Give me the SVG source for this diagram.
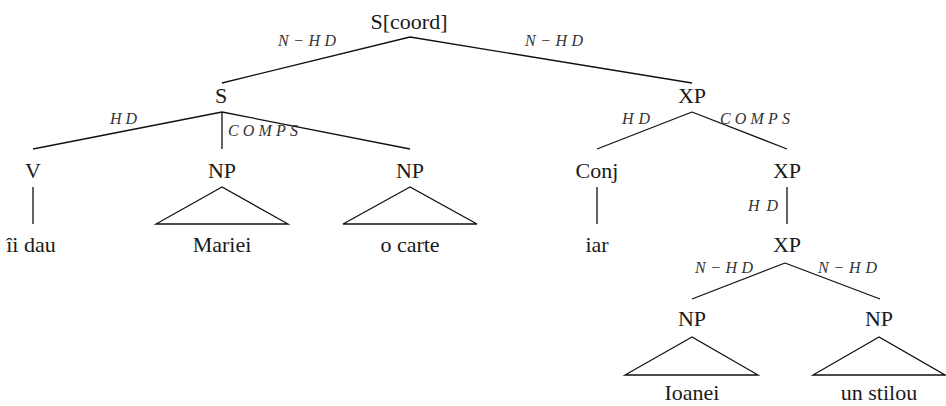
<svg xmlns="http://www.w3.org/2000/svg" width="946" height="406" viewBox="0 0 946 406">
<style>
.n{font-family:"Liberation Serif","DejaVu Serif",serif;font-size:22px;fill:#1a1a1a;text-anchor:middle}
.l{font-family:"Liberation Serif","DejaVu Serif",serif;font-size:16px;font-style:italic;fill:#333}
.e{stroke:#111;stroke-width:1.3;fill:none}
</style>
<rect width="946" height="406" fill="#fff"/>
<g id="connectors">
<path class="e" d="M410 37L222 83M410 37L692 83"/>
<path class="e" d="M222 112L33 149M222 112L222 149M222 112L410 149"/>
<path class="e" d="M692 112L597 149M692 112L787 149"/>
<path class="e" d="M33 187L33 224M597 187L597 224M787 187L787 224"/>
<path class="e" d="M222 187L156 224L288 224Z"/>
<path class="e" d="M410 187L343 224L477 224Z"/>
<path class="e" d="M785 263L692 299M785 263L880 299"/>
<path class="e" d="M692 337L625 375L758 375Z"/>
<path class="e" d="M879 337L813 375L945 375Z"/>
<text class="l" x="278" y="46" textLength="58" lengthAdjust="spacing">N−HD</text>
<text class="l" x="525" y="46" textLength="58" lengthAdjust="spacing">N−HD</text>
<text class="l" x="110" y="124" textLength="27" lengthAdjust="spacing">HD</text>
<text class="l" x="228" y="136" textLength="70" lengthAdjust="spacing">COMPS</text>
<text class="l" x="622" y="124" textLength="28" lengthAdjust="spacing">HD</text>
<text class="l" x="720" y="124" textLength="70" lengthAdjust="spacing">COMPS</text>
<text class="l" x="748" y="211" textLength="30" lengthAdjust="spacing">HD</text>
<text class="l" x="695" y="273" textLength="58" lengthAdjust="spacing">N−HD</text>
<text class="l" x="818" y="273" textLength="59" lengthAdjust="spacing">N−HD</text>
</g>
<g id="n_root"><text class="n" x="409" y="29">S[coord]</text></g>
<g id="n_S"><text class="n" x="221" y="103">S</text></g>
<g id="n_XP1"><text class="n" x="692" y="103">XP</text></g>
<g id="n_V"><text class="n" x="33" y="178">V</text></g>
<g id="n_NP1"><text class="n" x="222" y="178">NP</text></g>
<g id="n_NP2"><text class="n" x="410" y="178">NP</text></g>
<g id="n_Conj"><text class="n" x="597" y="178">Conj</text></g>
<g id="n_XP2"><text class="n" x="787" y="178">XP</text></g>
<g id="n_iidau"><text class="n" x="31" y="252">îi dau</text></g>
<g id="n_Mariei"><text class="n" x="222" y="252">Mariei</text></g>
<g id="n_ocarte"><text class="n" x="410" y="252">o carte</text></g>
<g id="n_iar"><text class="n" x="597" y="252">iar</text></g>
<g id="n_XP3"><text class="n" x="787" y="252">XP</text></g>
<g id="n_NP3"><text class="n" x="692" y="326">NP</text></g>
<g id="n_NP4"><text class="n" x="879" y="326">NP</text></g>
<g id="n_Ioanei"><text class="n" x="692" y="400">Ioanei</text></g>
<g id="n_unstilou"><text class="n" x="879" y="400">un stilou</text></g>
</svg>
